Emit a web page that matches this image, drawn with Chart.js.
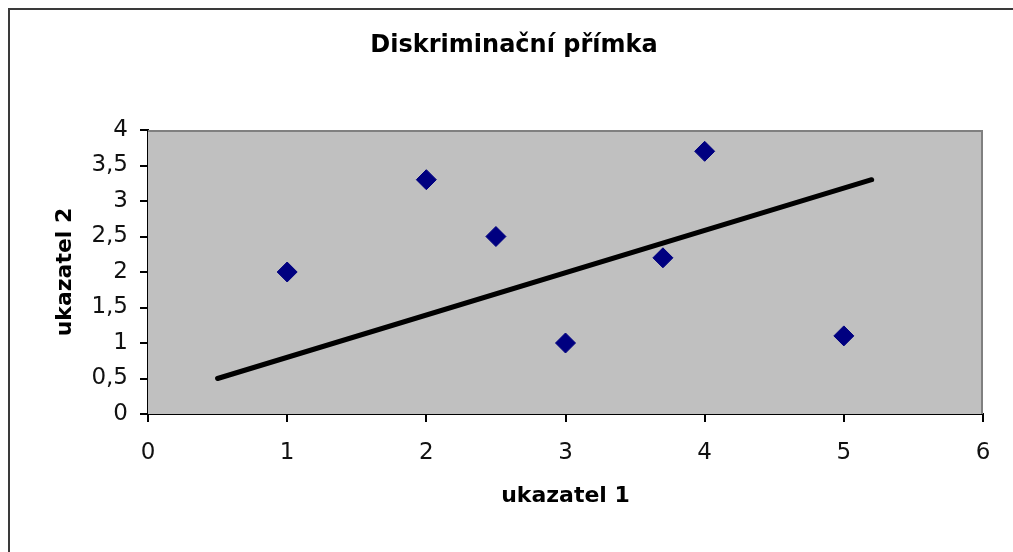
<!DOCTYPE html>
<html>
<head>
<meta charset="utf-8">
<script src="https://cdn.jsdelivr.net/npm/chart.js@4/dist/chart.umd.min.js"></script>
<style>
  html, body { margin: 0; padding: 0; background: #fff; overflow: hidden; }
  #wrap { position: relative; width: 1013px; height: 552px; }
  #frame { position: absolute; left: 8px; top: 8px; width: 2000px; height: 2000px;
           border-top: 2px solid #3a3a3a; border-left: 2px solid #3a3a3a; pointer-events: none; }
  canvas { position: absolute; left: 0; top: 0; }
</style>
</head>
<body>
<div id="wrap">
  <canvas id="c" width="1013" height="552"></canvas>
  <div id="frame"></div>
</div>
<script>
// ---- data ----
const chartTitle = 'Diskriminační přímka';
const xAxisTitle = 'ukazatel 1';
const yAxisTitle = 'ukazatel 2';
const pointsX = [1, 2, 2.5, 3, 3.7, 4, 5];
const pointsY = [2, 3.3, 2.5, 1, 2.2, 3.7, 1.1];
const lineX = [0.5, 5.2];
const lineY = [0.5, 3.3];
const xTicks = [0, 1, 2, 3, 4, 5, 6];
const xTickLabels = ['0', '1', '2', '3', '4', '5', '6'];
const yTicks = [0, 0.5, 1, 1.5, 2, 2.5, 3, 3.5, 4];
const yTickLabels = ['0', '0,5', '1', '1,5', '2', '2,5', '3', '3,5', '4'];

const FONT = '"DejaVu Sans", "Liberation Sans", Arial, sans-serif';

const plotBg = {
  id: 'plotBg',
  beforeDatasetsDraw(chart) {
    const { ctx, chartArea: a } = chart;
    ctx.save();
    ctx.fillStyle = '#c0c0c0';
    ctx.fillRect(a.left, a.top, a.right - a.left, a.bottom - a.top);
    ctx.strokeStyle = '#808080';
    ctx.lineWidth = 2;
    ctx.beginPath();
    ctx.moveTo(a.left, a.top + 1);
    ctx.lineTo(a.right - 1, a.top + 1);
    ctx.lineTo(a.right - 1, a.bottom);
    ctx.stroke();
    ctx.restore();
  }
};

new Chart(document.getElementById('c'), {
  type: 'scatter',
  data: {
    datasets: [
      {
        label: 'line',
        data: lineX.map((x, i) => ({ x, y: lineY[i] })),
        showLine: true,
        borderColor: '#000',
        borderWidth: 5,
        borderCapStyle: 'round',
        pointRadius: 0,
        order: 1
      },
      {
        label: 'points',
        data: pointsX.map((x, i) => ({ x, y: pointsY[i] })),
        pointStyle: 'rectRot',
        pointRadius: 10,
        backgroundColor: '#000080',
        borderColor: '#000080',
        borderWidth: 1,
        order: 0
      }
    ]
  },
  options: {
    responsive: false,
    animation: false,
    events: [],
    layout: { padding: { top: 8, left: 45, right: 30, bottom: 0 } },
    plugins: {
      legend: { display: false },
      tooltip: { enabled: false },
      title: {
        display: true,
        text: chartTitle,
        color: '#000',
        font: { family: FONT, size: 24, weight: 'bold' },
        padding: { top: 23.6, bottom: 69.6 }
      }
    },
    scales: {
      x: {
        type: 'linear',
        min: 0, max: 6,
        afterBuildTicks: s => { s.ticks = xTicks.map(v => ({ value: v })); },
        afterFit: s => { s.height = 138; },
        ticks: {
          callback: (v) => xTickLabels[xTicks.indexOf(v)],
          color: '#111',
          font: { family: FONT, size: 23 },
          padding: 17,
          maxRotation: 0
        },
        grid: { display: true, drawOnChartArea: false, drawTicks: true, tickLength: 8, color: '#000', lineWidth: 2 },
        border: { display: true, color: '#000', width: 2 },
        title: {
          display: true, text: xAxisTitle, color: '#000',
          font: { family: FONT, size: 22, weight: 'bold' },
          padding: { top: 0, bottom: 42.8 }
        }
      },
      y: {
        type: 'linear',
        min: 0, max: 4,
        afterBuildTicks: s => { s.ticks = yTicks.map(v => ({ value: v })); },
        afterFit: s => { s.width = 103; },
        ticks: {
          callback: (v) => yTickLabels[yTicks.indexOf(v)],
          color: '#111',
          font: { family: FONT, size: 23 },
          padding: 12
        },
        grid: { display: true, drawOnChartArea: false, drawTicks: true, tickLength: 8, color: '#000', lineWidth: 2 },
        border: { display: true, color: '#000', width: 2 },
        title: {
          display: true, text: yAxisTitle, color: '#000',
          font: { family: FONT, size: 22, weight: 'bold' },
          padding: { top: 6.8, bottom: 0 }
        }
      }
    }
  },
  plugins: [plotBg]
});
</script>
</body>
</html>
